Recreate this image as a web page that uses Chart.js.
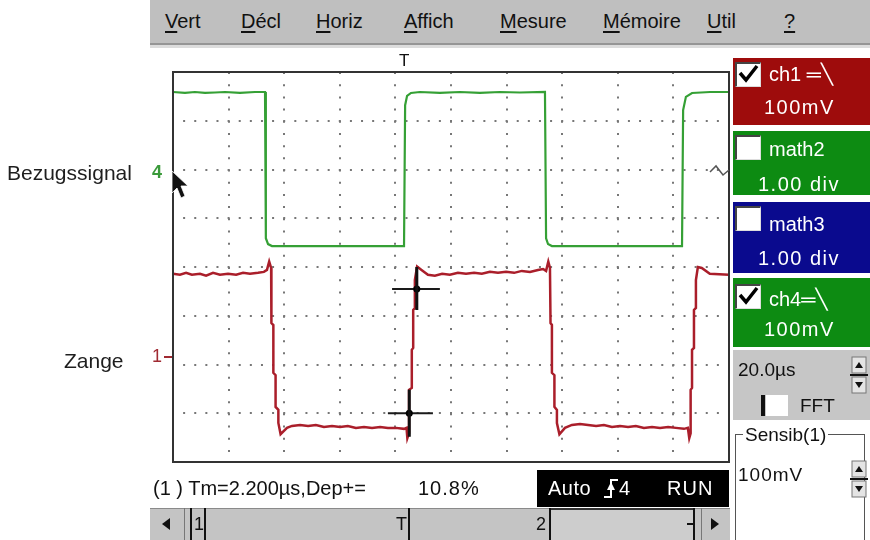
<!DOCTYPE html>
<html>
<head>
<meta charset="utf-8">
<script src="https://cdn.jsdelivr.net/npm/chart.js@4.4.0/dist/chart.umd.min.js"></script>
<style>
body { margin: 0; background: #fff; font-family: "Liberation Sans", Arial, "DejaVu Sans", sans-serif; }
#wrap { position: relative; width: 870px; height: 540px; overflow: hidden; }
#scope { position: absolute; left: 0; top: 0; }
.t { position: absolute; white-space: pre; line-height: 1; }
.box { position: absolute; }
.menu u { text-decoration-thickness: 2px; text-underline-offset: 3px; }
.chk { position: absolute; width: 23px; height: 22px; background: #fff;
       border-top: 2px solid #444; border-left: 2px solid #444; border-right: 1px solid #ddd; border-bottom: 1px solid #ddd; }
.w { color: #fff; font-size: 20px; }
svg { position: absolute; left: 0; top: 0; }
</style>
</head>
<body>
<div id="wrap">
  <canvas id="scope" width="870" height="540"></canvas>

  <!-- barre de menu -->
  <div class="box" style="left:150px;top:0;width:720px;height:43px;background:#bfbfbf;"></div>
  <div class="box" style="left:150px;top:43px;width:720px;height:2px;background:#959595;"></div>
  <div class="box" style="left:150px;top:45px;width:720px;height:3px;background:#dcdcdc;"></div>
  <div class="t menu" style="left:165px;top:11px;font-size:20px;color:#111;"><u>V</u>ert</div>
  <div class="t menu" style="left:241px;top:11px;font-size:20px;color:#111;"><u>D</u>écl</div>
  <div class="t menu" style="left:316px;top:11px;font-size:20px;color:#111;"><u>H</u>oriz</div>
  <div class="t menu" style="left:404px;top:11px;font-size:20px;color:#111;"><u>A</u>ffich</div>
  <div class="t menu" style="left:500px;top:11px;font-size:20px;color:#111;"><u>M</u>esure</div>
  <div class="t menu" style="left:603px;top:11px;font-size:20px;color:#111;"><u>M</u>émoire</div>
  <div class="t menu" style="left:707px;top:11px;font-size:20px;color:#111;"><u>U</u>til</div>
  <div class="t menu" style="left:784px;top:11px;font-size:20px;color:#111;"><u>?</u></div>

  <div class="t" style="left:399px;top:52px;font-size:17px;color:#111;">T</div>

  <!-- libellés gauche -->
  <div class="t" style="left:7px;top:162px;font-size:21px;color:#1e1e1e;">Bezugssignal</div>
  <div class="t" style="left:64px;top:350px;font-size:21px;color:#1e1e1e;">Zange</div>
  <div class="t" style="left:152px;top:163px;font-size:18px;font-weight:bold;color:#3a9a3a;">4</div>
  <div class="t" style="left:152px;top:347px;font-size:18px;color:#a02a32;">1</div>
  <div class="box" style="left:164px;top:356px;width:8px;height:2px;background:#a02a32;"></div>

  <!-- panneau droit -->
  <div class="box" style="left:733px;top:58px;width:137px;height:67px;background:#9e0c0c;"></div>
  <div class="chk" style="left:735px;top:62px;"></div>
  <div class="t w" style="left:769px;top:64px;">ch1 ═╲</div>
  <div class="t w" style="left:764px;top:97px;letter-spacing:1.5px;">100mV</div>

  <div class="box" style="left:733px;top:131px;width:137px;height:64px;background:#0d8b12;"></div>
  <div class="chk" style="left:735px;top:135px;"></div>
  <div class="t w" style="left:769px;top:139px;">math2</div>
  <div class="t w" style="left:758px;top:174px;letter-spacing:1.5px;">1.00 div</div>

  <div class="box" style="left:733px;top:202px;width:137px;height:71px;background:#0a0a8e;"></div>
  <div class="chk" style="left:735px;top:206px;"></div>
  <div class="t w" style="left:769px;top:214px;">math3</div>
  <div class="t w" style="left:758px;top:248px;letter-spacing:1.5px;">1.00 div</div>

  <div class="box" style="left:733px;top:278px;width:137px;height:69px;background:#0d8b12;"></div>
  <div class="chk" style="left:735px;top:284px;"></div>
  <div class="t w" style="left:769px;top:289px;">ch4═╲</div>
  <div class="t w" style="left:764px;top:319px;letter-spacing:1.5px;">100mV</div>

  <div class="box" style="left:733px;top:350px;width:137px;height:70px;background:#c6c6c6;"></div>
  <div class="t" style="left:738px;top:360px;font-size:19px;color:#111;">20.0µs</div>
  <div class="box" style="left:761px;top:395px;width:4px;height:21px;background:#111;"></div>
  <div class="box" style="left:766px;top:395px;width:22px;height:21px;background:#fff;"></div>
  <div class="t" style="left:800px;top:396px;font-size:19px;color:#111;">FFT</div>

  <div class="box" style="left:735px;top:434px;width:130px;height:115px;border:1px solid #555;box-sizing:border-box;"></div>
  <div class="t" style="left:743px;top:425px;font-size:19px;color:#111;background:#fff;padding:0 2px;">Sensib(1)</div>
  <div class="t" style="left:738px;top:465px;font-size:19px;color:#111;letter-spacing:1px;">100mV</div>

  <!-- ligne d'état -->
  <div class="t" style="left:153px;top:478px;font-size:20px;color:#111;">(1 ) Tm=2.200µs,Dep+=</div>
  <div class="t" style="left:418px;top:478px;font-size:20px;color:#111;letter-spacing:1px;">10.8%</div>
  <div class="box" style="left:537px;top:470px;width:192px;height:37px;background:#000;"></div>
  <div class="t" style="left:548px;top:478px;font-size:20px;color:#fff;letter-spacing:0.5px;">Auto</div>
  <div class="t" style="left:619px;top:478px;font-size:20px;color:#fff;">4</div>
  <div class="t" style="left:667px;top:478px;font-size:20px;color:#fff;letter-spacing:1px;">RUN</div>

  <!-- barre de défilement -->
  <div class="box" style="left:150px;top:508px;width:580px;height:32px;background:#c4c4c4;border-top:1px solid #8a8a8a;box-sizing:border-box;"></div>
  <div class="box" style="left:550px;top:508px;width:144px;height:32px;background:#cdcdcd;border-top:2px solid #333;box-sizing:border-box;"></div>
  <div class="box" style="left:184px;top:508px;width:1px;height:32px;background:#777;"></div>
  <div class="box" style="left:701px;top:508px;width:1px;height:32px;background:#777;"></div>
  <div class="box" style="left:190px;top:508px;width:2px;height:32px;background:#111;"></div>
  <div class="t" style="left:194px;top:515px;font-size:18px;color:#111;">1</div>
  <div class="box" style="left:204px;top:508px;width:2px;height:32px;background:#111;"></div>
  <div class="t" style="left:396px;top:515px;font-size:18px;color:#111;">T</div>
  <div class="box" style="left:408px;top:508px;width:2px;height:32px;background:#111;"></div>
  <div class="t" style="left:536px;top:515px;font-size:18px;color:#111;">2</div>
  <div class="box" style="left:549px;top:508px;width:2px;height:32px;background:#111;"></div>
  <div class="box" style="left:687px;top:523px;width:6px;height:2px;background:#111;"></div>
  <div class="box" style="left:693px;top:508px;width:2px;height:32px;background:#111;"></div>

  <svg width="870" height="540">
    <!-- coches -->
    <path d="M740 73 L746 80 L757 66" stroke="#000" stroke-width="3.5" fill="none"/>
    <path d="M740 295 L746 302 L757 288" stroke="#000" stroke-width="3.5" fill="none"/>
    <!-- flèches de réglage -->
    <rect x="852" y="357" width="14" height="16" fill="#e4e4e4" stroke="#777"/>
    <rect x="852" y="377" width="14" height="16" fill="#e4e4e4" stroke="#777"/>
    <line x1="850" y1="375" x2="868" y2="375" stroke="#111" stroke-width="2"/>
    <path d="M859 362 L855 368 L863 368 Z" fill="#111"/>
    <path d="M859 388 L855 382 L863 382 Z" fill="#111"/>
    <rect x="852" y="461" width="14" height="16" fill="#e4e4e4" stroke="#777"/>
    <rect x="852" y="481" width="14" height="16" fill="#e4e4e4" stroke="#777"/>
    <line x1="850" y1="479" x2="868" y2="479" stroke="#111" stroke-width="2"/>
    <path d="M859 466 L855 472 L863 472 Z" fill="#111"/>
    <path d="M859 492 L855 486 L863 486 Z" fill="#111"/>
    <!-- icône déclenchement -->
    <path d="M604 497 H611 V480 H618" stroke="#fff" stroke-width="2" fill="none"/>
    <path d="M611 482 L607 490 L615 490 Z" fill="#fff"/>
    <!-- flèches barre de défilement -->
    <path d="M162 524 L170 518 L170 530 Z" fill="#111"/>
    <path d="M719 524 L711 518 L711 530 Z" fill="#111"/>
    <!-- repère à droite -->
    <polyline points="710,172 716,166 723,175 729,170" stroke="#555" stroke-width="1.5" fill="none"/>
    <!-- pointeur souris -->
    <path d="M172 171 L172 193 L177 188 L181 198 L185 196 L181 186 L188 186 Z" fill="#111" stroke="#fff" stroke-width="0.8"/>
  </svg>
</div>

<script>
// Oscilloscope : 20 µs/div en horizontal, ordonnées en divisions (0 = ligne centrale)

// ch4 (vert) — Bezugssignal
const ch4TimeUs = [0, 4.3, 7.9, 11.5, 15.1, 18.7, 24.1, 29.5, 33.1, 33.4, 34.2, 35.6, 56.5, 83.1,
    83.5, 84.2, 85.6, 88.8, 96.0, 103.2, 110.4, 117.6, 124.8, 133.8, 134.2, 134.9, 136.3, 153.6,
    168.0, 183.1, 183.5, 184.5, 186.7, 193.2, 200];
const ch4Div = [3.59, 3.57, 3.59, 3.57, 3.58, 3.59, 3.57, 3.59, 3.59, 0.59, 0.47, 0.43, 0.43, 0.43,
    3.32, 3.51, 3.57, 3.59, 3.57, 3.59, 3.57, 3.59, 3.58, 3.59, 0.59, 0.47, 0.43, 0.43,
    0.43, 0.43, 3.22, 3.49, 3.57, 3.59, 3.59];

// ch1 (rouge) — Zange
const ch1TimeUs = [0, 2.5, 4.7, 6.8, 9.7, 11.9, 14.4, 16.9, 19.8, 22.7, 25.2, 27.7, 30.6, 32.7, 33.8,
    34.6, 35.3, 35.4, 36.1, 36.1, 36.9, 36.9, 37.9, 37.9, 38.7, 41.0, 42.8, 45.7, 48.6, 51.4, 54.3,
    57.2, 60.1, 62.9, 65.8, 68.7, 71.6, 74.5, 77.3, 80.2, 83.1, 84.0, 84.3, 84.9, 84.9, 85.9, 85.9,
    86.4, 86.4, 87.0, 87.0, 87.8, 89.4, 91.7, 94.2, 96.8, 99.6, 102.5, 105.4, 108.3, 111.1, 114.0,
    116.9, 119.8, 122.7, 125.5, 128.4, 131.3, 133.1, 134.2, 135.0, 135.6, 135.8, 136.3, 136.3,
    137.2, 137.2, 138.1, 138.1, 139.0, 141.0, 143.5, 146.4, 149.3, 152.2, 155.0, 157.9, 160.8,
    163.7, 166.5, 169.4, 172.3, 175.2, 178.1, 180.9, 183.8, 185.2, 185.7, 186.2, 186.2, 186.7,
    186.7, 187.4, 187.4, 188.1, 188.1, 188.8, 190.2, 193.1, 200];
const ch1Div = [-0.14, -0.16, -0.12, -0.16, -0.14, -0.18, -0.12, -0.16, -0.14, -0.16, -0.12, -0.14, -0.12, -0.10, -0.06,
    0.11, -0.02, -1.15, -1.19, -2.17, -2.22, -2.87, -2.93, -3.20, -3.43, -3.30, -3.26, -3.24, -3.26, -3.24, -3.28,
    -3.26, -3.28, -3.26, -3.30, -3.28, -3.30, -3.28, -3.30, -3.30, -3.32, -3.30, -3.51, -3.41, -2.52, -2.48, -1.70,
    -1.66, -0.88, -0.84, -0.27, 0.01, -0.06, -0.16, -0.18, -0.14, -0.16, -0.12, -0.14, -0.12, -0.14, -0.10,
    -0.12, -0.10, -0.12, -0.08, -0.10, -0.06, -0.04, -0.08, 0.11, -0.02, -1.15, -1.19, -2.17,
    -2.22, -2.87, -2.93, -3.20, -3.43, -3.30, -3.24, -3.22, -3.24, -3.26, -3.24, -3.28, -3.26,
    -3.28, -3.26, -3.30, -3.28, -3.30, -3.28, -3.30, -3.32, -3.30, -3.51, -3.41, -2.52, -2.48,
    -1.70, -1.66, -0.88, -0.84, -0.27, 0.00, -0.02, -0.14, -0.16];

// curseurs de mesure (haut, bas)
const cursorTimeUs = [87.7, 85.0];
const cursorDiv = [-0.45, -3.0];
const cursorSpanUs = [[78.8, 96.0], [77.3, 93.5]];
const cursorMarkDiv = [[0.0, -0.88], [-2.52, -3.48]];

// graduations : 10 div x 8 div
const timeTicksUs = [0, 200, 20];
const divTicks = [-4, 4, 1];

function zip(xs, ys) {
    return xs.map((x, i) => ({ x, y: ys[i] }));
}

// cadre noir autour de l'écran
const framePlugin = {
    id: "frame",
    afterDraw(chart) {
        const { ctx, chartArea: a } = chart;
        ctx.save();
        ctx.strokeStyle = "#333";
        ctx.lineWidth = 2;
        ctx.strokeRect(a.left, a.top, a.right - a.left, a.bottom - a.top);
        ctx.restore();
    },
};

const datasets = [
    { data: zip(ch4TimeUs, ch4Div), borderColor: "#35a035", borderWidth: 2.2, order: 3 },
    { data: zip(ch1TimeUs, ch1Div), borderColor: "#aa1e2a", borderWidth: 2.5, order: 2 },
];

cursorTimeUs.forEach((t, i) => {
    datasets.push({
        data: zip(cursorSpanUs[i], [cursorDiv[i], cursorDiv[i]]),
        borderColor: "#1a1a1a", borderWidth: 2, order: 1,
    });
    datasets.push({
        data: zip([t, t], cursorMarkDiv[i]),
        borderColor: "#111", borderWidth: 3, order: 0,
    });
    datasets.push({
        data: [{ x: t, y: cursorDiv[i] }],
        showLine: false, pointRadius: 3.5, pointBackgroundColor: "#000",
        pointBorderWidth: 0, order: 0,
    });
});

new Chart(document.getElementById("scope"), {
    type: "line",
    data: { datasets },
    options: {
        responsive: false,
        animation: false,
        events: [],
        layout: { padding: { left: 173, top: 72, right: 141, bottom: 78 } },
        elements: { point: { radius: 0 }, line: { tension: 0 } },
        plugins: { legend: { display: false }, tooltip: { enabled: false } },
        scales: {
            x: {
                type: "linear",
                min: timeTicksUs[0], max: timeTicksUs[1],
                ticks: { display: false, stepSize: timeTicksUs[2] },
                grid: { color: "#777", lineWidth: 2, drawTicks: false },
                border: { display: false, dash: [2, 10.19], dashOffset: 0 },
            },
            y: {
                type: "linear",
                min: divTicks[0], max: divTicks[1],
                ticks: { display: false, stepSize: divTicks[2] },
                grid: { color: "#777", lineWidth: 2, drawTicks: false },
                border: { display: false, dash: [2, 9.12], dashOffset: 1 },
            },
        },
    },
    plugins: [framePlugin],
});
</script>
</body>
</html>
